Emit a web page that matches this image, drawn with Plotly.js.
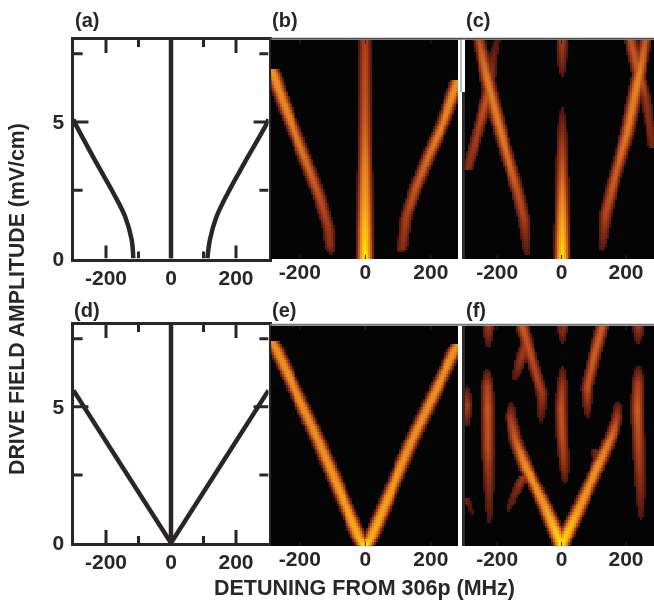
<!DOCTYPE html>
<html><head><meta charset="utf-8">
<script src="https://cdn.plot.ly/plotly-3.0.1.min.js"></script>
<style>html,body{margin:0;padding:0;background:#fff;overflow:hidden}#chart{width:654px;height:602px;filter:blur(0.5px)}</style>
</head><body><div id="chart"></div>
<script>
// Line panels: detuning (MHz) vs drive field amplitude (mV/cm)
const aLeftX  = [-116,-121,-141,-177,-229,-295,-300];
const aLeftY  = [0,0.68,1.53,2.39,3.49,4.95,5.1];
const aRightX = [112,120,139,175,226,295,300];
const aRightY = [0,0.7,1.5,2.4,3.5,4.95,5.1];
const dLeftX  = [-300,-150,0];
const dLeftY  = [5.6,2.8,0];
const dRightX = [0,150,300];
const dRightY = [0,2.8,5.6];
const centerX = [0,0];
const centerY = [0,8];

// Bright ridges: [detuning], [amplitude], [intensity]
const bRidges = [
 [[0,0,0,0,0,0,0,0],[0,1,2,3,4,5,6,8],[1,0.88,0.72,0.6,0.5,0.42,0.38,0.33]],
 [[-104,-108,-113,-139,-170,-200,-236,-268,-279,-287],[0.2,0.5,1.16,2.26,3.24,4.16,5.26,6.3,6.72,6.95],[0.13,0.25,0.3,0.38,0.45,0.5,0.56,0.62,0.66,0.66]],
 [[112,115,126,156,197,238,278,285],[0.25,0.4,1.53,2.63,3.85,4.95,6.29,6.55],[0.13,0.25,0.32,0.4,0.48,0.55,0.62,0.62]]
];
const cRidges = [
 [[2,2,2,2,2,2,2],[0,1,2,3,4,5,5.54],[1,0.82,0.62,0.45,0.33,0.2,0.12]],
 [[2,2,2],[6.64,7,8],[0.12,0.2,0.33]],
 [[-108,-116,-137,-168,-199,-230,-256],[0.2,1.41,2.5,3.73,5.07,6.54,8],[0.14,0.32,0.38,0.48,0.52,0.52,0.38]],
 [[-292,-261,-230,-215,-199],[3.3,4.59,5.93,7.27,8],[0.25,0.32,0.4,0.2,0.14]],
 [[127,137,163,204,235,261],[0.37,1.65,2.88,4.59,6.42,8],[0.15,0.35,0.42,0.5,0.56,0.4]],
 [[284,261,241,215],[4.1,5.93,6.66,8],[0.2,0.28,0.42,0.38]]
];
const eRidges = [
 [[0,-18,-139,-276,-284],[0,0.3,3.73,7.26,7.4],[1,0.78,0.62,0.64,0.64]],
 [[0,18,139,278,286],[0,0.3,3.73,7.2,7.35],[1,0.78,0.62,0.64,0.64]]
];
const fRidges = [
 [[0,-54,-111,-142,-158,-156],[0,1.53,2.87,3.84,4.68,5.23],[1,0.66,0.62,0.42,0.3,0.12]],
 [[0,60,116,158,173,175],[0,1.53,2.99,4.08,4.68,5.29],[1,0.66,0.62,0.45,0.32,0.12]],
 [[12,8,2,-1,2,3],[2.3,3,4,5,5.8,6.56],[0.12,0.28,0.38,0.4,0.3,0.12]],
 [[3,3],[7.35,8],[0.12,0.3]],
 [[-223,-225,-227,-228,-229,-230,-230],[0.8,2,3,3.47,5.05,5.8,6.44],[0.12,0.22,0.3,0.36,0.4,0.33,0.12]],
 [[-227,-227],[7.23,8],[0.12,0.3]],
 [[-296,-296,-296],[4.38,5.1,5.8],[0.14,0.33,0.12]],
 [[-277,-298],[1.17,1.78],[0.12,0.18]],
 [[-167,-140,-116],[1.29,2,2.56],[0.13,0.22,0.3]],
 [[-63,-60,-85,-106,-122],[4.5,5.53,6.5,7.3,8],[0.12,0.3,0.35,0.38,0.42]],
 [[-145,-127,-111],[6.04,6.75,7.36],[0.13,0.28,0.3]],
 [[80,80,101,127],[4.66,5.77,6.87,8],[0.12,0.38,0.42,0.42]],
 [[116,106],[3,3.59],[0.3,0.15]],
 [[246,244,241,238,235,237,238.6],[0.93,2,3,4,4.93,5.9,6.56],[0.12,0.22,0.3,0.36,0.42,0.33,0.12]],
 [[238,238],[7.35,8],[0.12,0.3]]
];

const xTickVals = [-200,0,200];
const xTickText = ['-200','0','200'];
const xMinorVals = [-100,100];
const yTickVals = [0,5];
const yMinorVals = [2.5,7.5];
const panelLabels = ['(a)','(b)','(c)','(d)','(e)','(f)'];
const xTitle = 'DETUNING FROM 306p (MHz)';
const yTitle = 'DRIVE FIELD AMPLITUDE (mV/cm)';

const W = 654, H = 602;
const INK = '#2a2627';
const FONT = '"Liberation Sans", Arial, sans-serif';
const heatScale = [[0,'#040404'],[0.115,'#040404'],[0.12,'#4a140c'],[0.32,'#ab3f1c'],[0.5,'#dc7a22'],[0.68,'#f09a1c'],[0.85,'#fcc012'],[1,'#fff000']];
const gridX = [], gridY = [];
for (let x = -300; x <= 300; x += 6) gridX.push(x);
for (let y = 0; y <= 8; y += 0.1) gridY.push(y);

function cells(ridges) {
  const sigma = 19;
  return gridY.map(y => gridX.map(x => {
    let v = 0;
    ridges.forEach(r => {
      const [rx, ry, ra] = r;
      if (y < ry[0] || y > ry[ry.length - 1]) return;
      let i = 0;
      while (i < ry.length - 2 && y > ry[i + 1]) i++;
      const t = (y - ry[i]) / (ry[i + 1] - ry[i]);
      const cx = rx[i] + t * (rx[i + 1] - rx[i]);
      const a = ra[i] + t * (ra[i + 1] - ra[i]);
      v = Math.max(v, a * Math.exp(-Math.pow((x - cx) / sigma, 2)));
    });
    return v;
  }));
}

const line = (x, y, ax, ay) => ({x, y, xaxis: ax, yaxis: ay, type: 'scatter', mode: 'lines', showlegend: false,
  line: {color: INK, width: 4.5, shape: 'spline'}, hoverinfo: 'skip'});
const heat = (r, ax, ay) => ({x: gridX, y: gridY, z: cells(r), xaxis: ax, yaxis: ay, type: 'heatmap',
  colorscale: heatScale, zmin: 0, zmax: 1, showscale: false, zsmooth: false, hoverinfo: 'skip'});

// Inward tick marks on the frame, placed in axis units
function tickTrace(ax, ay, xvals, xlen, yvals, ylen, width) {
  const x = [], y = [];
  const [xMin, xMax, yMin, yMax] = [-300, 300, 0, 8];
  xvals.forEach(v => { x.push(v, v, null, v, v, null); y.push(yMin, yMin + xlen, null, yMax - xlen, yMax, null); });
  yvals.forEach(v => { x.push(xMin, xMin + ylen, null, xMax - ylen, xMax, null); y.push(v, v, null, v, v, null); });
  return {x, y, xaxis: ax, yaxis: ay, type: 'scatter', mode: 'lines', showlegend: false, hoverinfo: 'skip',
    line: {color: INK, width}};
}
const yMarks = yTickVals.filter(v => v > 0);

const data = [
  line(aLeftX, aLeftY, 'x', 'y'), line(aRightX, aRightY, 'x', 'y'), line(centerX, centerY, 'x', 'y'),
  tickTrace('x', 'y', xTickVals, 0.48, yMarks, 46, 3), tickTrace('x', 'y', xMinorVals, 0.26, yMinorVals, 28, 3),
  heat(bRidges, 'x2', 'y2'), heat(cRidges, 'x3', 'y3'),
  tickTrace('x2', 'y2', xTickVals, 0.15, [], 0, 1), tickTrace('x3', 'y3', xTickVals, 0.15, [], 0, 1),
  line(dLeftX, dLeftY, 'x4', 'y4'), line(dRightX, dRightY, 'x4', 'y4'), line(centerX, centerY, 'x4', 'y4'),
  tickTrace('x4', 'y4', xTickVals, 0.48, yMarks, 46, 3), tickTrace('x4', 'y4', xMinorVals, 0.26, yMinorVals, 28, 3),
  heat(eRidges, 'x5', 'y5'), heat(fRidges, 'x6', 'y6'),
  tickTrace('x5', 'y5', xTickVals, 0.15, [], 0, 1), tickTrace('x6', 'y6', xTickVals, 0.15, [], 0, 1)
];

const fx = p => p / W, fy = p => 1 - p / H;
const tickFont = {family: FONT, size: 21, color: INK, weight: 'bold'};
function xAxis(l, r, range, anchor, framed) {
  const a = {domain: [fx(l), fx(r)], range, anchor, tickmode: 'array', tickvals: xTickVals, ticktext: xTickText,
    tickfont: tickFont, showgrid: false, zeroline: false, ticks: '', tickangle: 0, ticklabelstandoff: -2};
  if (framed) Object.assign(a, {showline: true, mirror: true, linecolor: INK, linewidth: 3});
  else a.showline = false;
  return a;
}
function yAxis(t, b, anchor, kind) {
  const a = {domain: [fy(b), fy(t)], range: [0, 8], anchor, showgrid: false, zeroline: false, ticks: ''};
  if (kind === 'framed') Object.assign(a, {tickmode: 'array', tickvals: yTickVals, ticktext: ['0','5'], tickfont: tickFont,
    showline: true, mirror: true, linecolor: INK, linewidth: 3, ticklabelstandoff: 2});
  else if (kind === 'edge') Object.assign(a, {showticklabels: false, showline: true, linecolor: '#2c2a2a', linewidth: 3});
  else a.showticklabels = false;
  return a;
}
const label = (text, x, y) => ({text, x: fx(x), y: fy(y), xref: 'paper', yref: 'paper', xanchor: 'left', yanchor: 'middle', showarrow: false,
  font: {family: FONT, size: 20, color: INK, weight: 'bold'}});

const layout = {
  width: W, height: H, margin: {l: 0, r: 0, t: 0, b: 0}, paper_bgcolor: '#fff', plot_bgcolor: 'rgba(0,0,0,0)', showlegend: false,
  xaxis:  xAxis(73.5, 268.5, [-300, 300], 'y', true),
  yaxis:  yAxis(40, 258.5, 'x', 'framed'),
  xaxis2: xAxis(271, 458, [-288, 283], 'y2', false),
  yaxis2: yAxis(40, 259, 'x2', 'none'),
  xaxis3: xAxis(465, 654, [-300, 287], 'y3', false),
  yaxis3: yAxis(40, 259, 'x3', 'edge'),
  xaxis4: xAxis(73.5, 268.5, [-300, 300], 'y4', true),
  yaxis4: yAxis(325, 543, 'x4', 'framed'),
  xaxis5: Object.assign(xAxis(271, 458, [-288, 283], 'y5', false), {title: {text: xTitle, font: {family: FONT, size: 21.5, color: INK, weight: 'bold'}, standoff: 10}}),
  yaxis5: yAxis(326, 546, 'x5', 'none'),
  xaxis6: xAxis(465, 654, [-300, 287], 'y6', false),
  yaxis6: yAxis(326, 546, 'x6', 'edge'),
  annotations: [
    label(panelLabels[0], 73, 20), label(panelLabels[1], 270, 20), label(panelLabels[2], 464, 20),
    label(panelLabels[3], 72, 310), label(panelLabels[4], 270, 310), label(panelLabels[5], 464, 310),
    {text: yTitle, x: fx(17), y: fy(299), xref: 'paper', yref: 'paper', textangle: -90, showarrow: false, xanchor: 'center', yanchor: 'middle',
     font: {family: FONT, size: 21.3, color: INK, weight: 'bold'}}
  ],
  shapes: [
    {type: 'line', xref: 'paper', yref: 'paper', x0: fx(270), x1: 1, y0: fy(38.8), y1: fy(38.8), line: {color: '#555', width: 2}},
    {type: 'line', xref: 'paper', yref: 'paper', x0: fx(270), x1: 1, y0: fy(324.8), y1: fy(324.8), line: {color: '#777', width: 2}},
    {type: 'rect', xref: 'paper', yref: 'paper', x0: fx(461.6), x1: fx(465), y0: fy(92), y1: fy(39.8), fillcolor: '#fff', line: {width: 0}},
    {type: 'line', xref: 'paper', yref: 'paper', x0: fx(461), x1: fx(461), y0: fy(92), y1: fy(39.8), line: {color: '#777', width: 1}}
  ]
};
Plotly.newPlot('chart', data, layout, {staticPlot: true, displayModeBar: false});
</script></body></html>
